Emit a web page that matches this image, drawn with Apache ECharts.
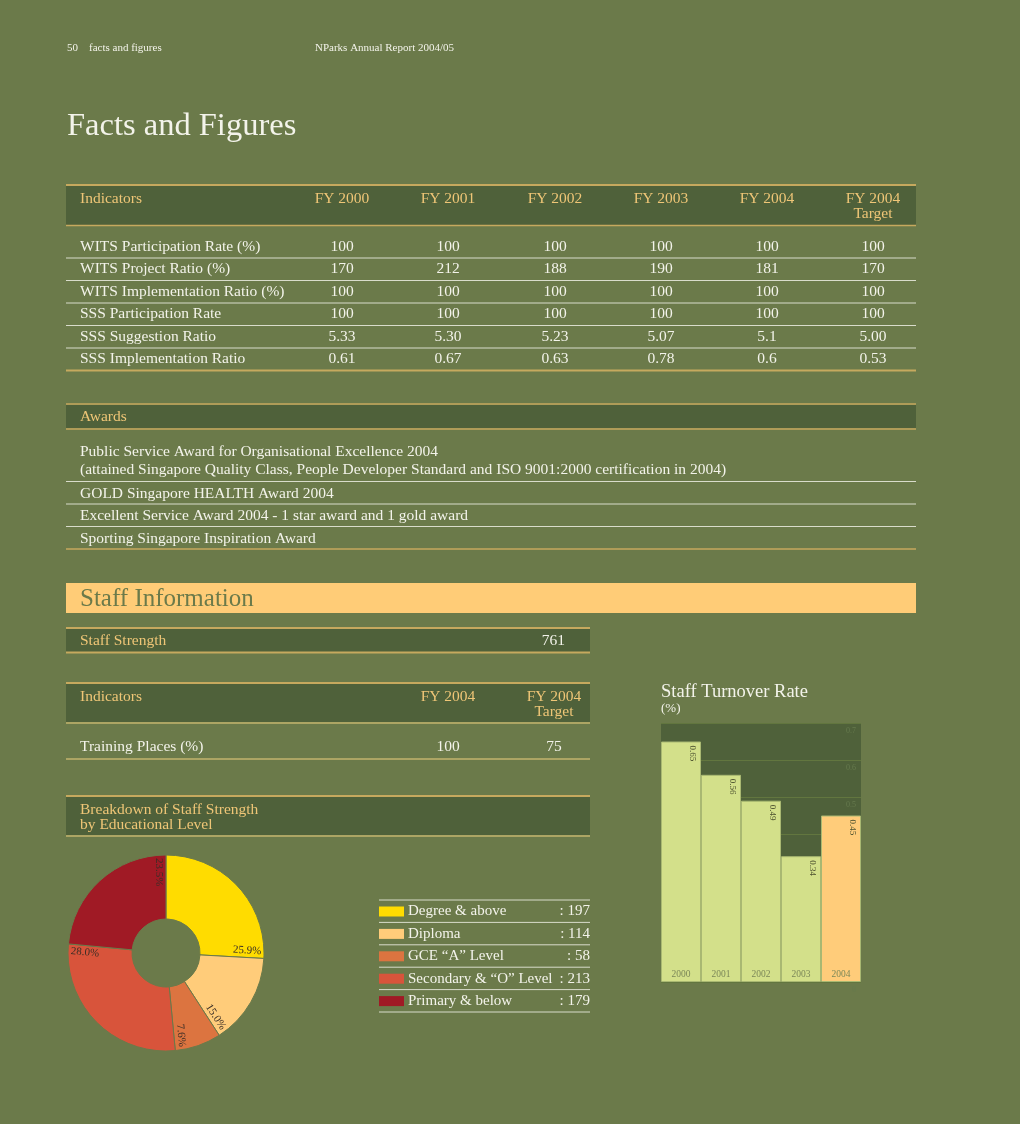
<!DOCTYPE html>
<html><head><meta charset="utf-8">
<script src="https://cdn.jsdelivr.net/npm/echarts@6/dist/echarts.min.js"></script>
<style>html,body{margin:0;padding:0;background:#6b7a4a;}#c{width:1020px;height:1124px;}</style>
</head><body><div id="c"></div>
<script>
// ---------- data ----------
const pageTag = '50    facts and figures';
const reportName = 'NParks Annual Report 2004/05';
const pageTitle = 'Facts and Figures';
const fyColumns = ['FY 2000', 'FY 2001', 'FY 2002', 'FY 2003', 'FY 2004', 'FY 2004\nTarget'];
const indicatorNames = ['WITS Participation Rate (%)', 'WITS Project Ratio (%)', 'WITS Implementation Ratio (%)', 'SSS Participation Rate', 'SSS Suggestion Ratio', 'SSS Implementation Ratio'];
const witsParticipation = ['100', '100', '100', '100', '100', '100'];
const witsProject = ['170', '212', '188', '190', '181', '170'];
const witsImplementation = ['100', '100', '100', '100', '100', '100'];
const sssParticipation = ['100', '100', '100', '100', '100', '100'];
const sssSuggestion = ['5.33', '5.30', '5.23', '5.07', '5.1', '5.00'];
const sssImplementation = ['0.61', '0.67', '0.63', '0.78', '0.6', '0.53'];
const awardsTitle = 'Awards';
const awards = [
  'Public Service Award for Organisational Excellence 2004\n(attained Singapore Quality Class, People Developer Standard and ISO 9001:2000 certification in 2004)',
  'GOLD Singapore HEALTH Award 2004',
  'Excellent Service Award 2004 - 1 star award and 1 gold award',
  'Sporting Singapore Inspiration Award'
];
const staffTitle = 'Staff Information';
const staffStrengthLabel = 'Staff Strength';
const staffStrength = 761;
const staffColumns = ['FY 2004', 'FY 2004\nTarget'];
const trainingLabel = 'Training Places (%)';
const trainingPlaces = ['100', '75'];
const breakdownTitle = 'Breakdown of Staff Strength\nby Educational Level';
const educationLevels = ['Degree & above', 'Diploma', 'GCE “A” Level', 'Secondary & “O” Level', 'Primary & below'];
const educationCounts = [197, 114, 58, 213, 179];
const turnoverTitle = 'Staff Turnover Rate';
const turnoverUnit = '(%)';
const turnoverYears = ['2000', '2001', '2002', '2003', '2004'];
const turnoverRates = [0.65, 0.56, 0.49, 0.34, 0.45];

// ---------- style ----------
const F = '"Liberation Serif","DejaVu Serif",serif';
const C = {bg:'#6b7a4a', band:'#4f613a', gold:'#c6a95e', lightGold:'#efd07e', head:'#efc677',
  white:'#f3f3ea', rule:'#d9dccb', staff:'#ffcc77'};
const eduColors = ['#ffdc00', '#ffcc7a', '#dc7440', '#d8543b', '#a01a25'];
const FS = 15.5;

const G = [];
function T(x, y, text, size, fill, align, extra) {
  G.push({type:'text', x:x, y:y, z:5, silent:true,
    style:Object.assign({text:text, fill:fill, font:size + 'px ' + F,
      align:align || 'left', textAlign:align || 'left', verticalAlign:'middle', textVerticalAlign:'middle'}, extra || {})});
}
function L(x1, y, x2, stroke, w) {
  G.push({type:'line', z:4, silent:true, shape:{x1:x1, y1:y, x2:x2, y2:y}, style:{stroke:stroke, lineWidth:w}});
}
function R(x, y, w, h, fill) {
  G.push({type:'rect', z:3, silent:true, shape:{x:x, y:y, width:w, height:h}, style:{fill:fill}});
}
const topAlign = {verticalAlign:'top', textVerticalAlign:'top', lineHeight:15};

// header
T(67, 48, pageTag, 11, C.white, 'left', {whiteSpace:'pre'});
T(315, 48, reportName, 11, C.white);
T(67, 126, pageTitle, 32.5, C.white);

// table 1
const X0 = 66, X1 = 916;
const colX = [342, 448, 555, 661, 767, 873];
L(X0, 185, X1, C.gold, 2);
R(X0, 186, X1 - X0, 39, C.band);
L(X0, 225.5, X1, C.gold, 1.5);
T(80, 191, 'Indicators', FS, C.head, 'left', topAlign);
fyColumns.forEach((c, i) => T(colX[i], 191, c, FS, C.head, 'center', topAlign));
const tableRows = [witsParticipation, witsProject, witsImplementation, sssParticipation, sssSuggestion, sssImplementation];
tableRows.forEach((row, r) => {
  const y = 246.5 + r * 22.5;
  T(80, y, indicatorNames[r], FS, C.white);
  row.forEach((v, i) => T(colX[i], y, v, FS, C.white, 'center'));
  if (r < tableRows.length - 1) L(X0, y + 11.5, X1, C.rule, 1);
});
L(X0, 370.5, X1, C.gold, 2);

// awards
L(X0, 404, X1, C.gold, 1.5);
R(X0, 405, X1 - X0, 23, C.band);
L(X0, 429, X1, C.gold, 1.5);
T(80, 417, awardsTitle, FS, C.head);
T(80, 443, awards[0], FS, C.white, 'left', {verticalAlign:'top', textVerticalAlign:'top', lineHeight:18});
L(X0, 481.5, X1, C.rule, 1);
T(80, 493.5, awards[1], FS, C.white);
L(X0, 504, X1, C.rule, 1);
T(80, 516, awards[2], FS, C.white);
L(X0, 526.5, X1, C.rule, 1);
T(80, 538.5, awards[3], FS, C.white);
L(X0, 549, X1, C.gold, 1.5);

// staff information band
R(X0, 583, X1 - X0, 30, C.staff);
T(80, 599, staffTitle, 25, '#6b7a4a');

// staff strength
const SX1 = 590;
L(X0, 628, SX1, C.gold, 2);
R(X0, 629, SX1 - X0, 23, C.band);
L(X0, 652.5, SX1, C.gold, 2);
T(80, 641, staffStrengthLabel, FS, C.head);
T(565, 641, String(staffStrength), FS, C.white, 'right');

// staff indicators
const sCol = [448, 554];
L(X0, 683, SX1, C.gold, 2);
R(X0, 684, SX1 - X0, 38, C.band);
L(X0, 723, SX1, C.lightGold, 1);
T(80, 689, 'Indicators', FS, C.head, 'left', topAlign);
staffColumns.forEach((c, i) => T(sCol[i], 689, c, FS, C.head, 'center', topAlign));
T(80, 747, trainingLabel, FS, C.white);
trainingPlaces.forEach((v, i) => T(sCol[i], 747, v, FS, C.white, 'center'));
L(X0, 759, SX1, C.lightGold, 1);

// breakdown
L(X0, 796, SX1, C.gold, 2);
R(X0, 797, SX1 - X0, 38, C.band);
L(X0, 836, SX1, C.lightGold, 1);
T(80, 802, breakdownTitle, FS, C.head, 'left', topAlign);

// legend of education levels
const LX0 = 379, LX1 = 590, LY0 = 900, LS = 22.4;
L(LX0, LY0, LX1, C.rule, 1);
educationLevels.forEach((name, i) => {
  const yc = LY0 + LS * i + 11.5;
  R(LX0, yc - 5, 25, 10, eduColors[i]);
  T(408, yc, name, 15, C.white);
  T(LX1, yc, ': ' + educationCounts[i], 15, C.white, 'right');
  L(LX0, LY0 + LS * (i + 1), LX1, C.rule, 1);
});

// turnover title
T(661, 692, turnoverTitle, 18.5, C.white);
T(661, 709, turnoverUnit, 13, C.white);

// ---------- pie label placement ----------
const total = educationCounts.reduce((a, b) => a + b, 0);
const cum = []; let acc = 0;
educationCounts.forEach(v => { acc += v; cum.push(acc); });
const PC = [166, 953], PR = [34, 98];

const chart = echarts.init(document.getElementById('c'), null, {renderer:'canvas', width:1020, height:1124});
chart.setOption({
  animation:false,
  backgroundColor:C.bg,
  graphic:{elements:G},
  grid:{left:661, top:723, width:200, height:259, show:true, backgroundColor:C.band, borderWidth:0},
  xAxis:{type:'category', data:turnoverYears, z:10,
    axisLine:{show:false}, axisTick:{show:false},
    axisLabel:{inside:true, margin:3, fontFamily:F, fontSize:9.5, color:'#7b8758'}},
  yAxis:{type:'value', position:'right', min:0, max:0.7, interval:0.1,
    axisLine:{show:false}, axisTick:{show:false},
    splitLine:{lineStyle:{color:'#62763f', width:1}},
    axisLabel:{inside:true, margin:5, fontFamily:F, fontSize:8, color:'#667a4d', verticalAlign:'top', padding:[4,0,0,0]}},
  series:[
    {type:'bar', data:turnoverRates.map((v, i) => ({value:v, itemStyle:{color: i === turnoverRates.length - 1 ? '#ffcc7a' : '#d3e08a'}})),
      barCategoryGap:'0%',
      itemStyle:{borderColor:'#a9b872', borderWidth:1},
      label:{show:true, position:['78%', 4], rotate:-90, align:'left', verticalAlign:'middle',
        fontFamily:F, fontSize:9, color:'#4d5230', formatter:p => String(p.value)}},
    {type:'pie', center:PC, radius:PR, startAngle:90, clockwise:true,
      data:educationLevels.map((n, i) => ({name:n, value:educationCounts[i], itemStyle:{color:eduColors[i]}})),
      itemStyle:{borderColor:'#6b7a4a', borderWidth:1},
      label:{show:true, position:'inside', fontFamily:F, fontSize:11, color:'#3a2e26',
        formatter:p => (p.value / total * 100).toFixed(1) + '%'},
      labelLine:{show:false},
      emphasis:{disabled:true},
      labelLayout:function (p) {
        const th = cum[p.dataIndex] / total * 2 * Math.PI;
        const dx = Math.sin(th), dy = -Math.cos(th);
        let rot = 90 - th * 180 / Math.PI;
        rot = (((rot + 180) % 360) + 360) % 360 - 180;
        let align = 'right';
        if (rot >= 90) { rot -= 180; align = 'left'; }
        else if (rot < -90) { rot += 180; align = 'left'; }
        const r = PR[1] - 3, off = 7;
        return {x:PC[0] + r * dx - off * Math.cos(th), y:PC[1] + r * dy - off * Math.sin(th),
          rotate:rot, align:align, verticalAlign:'middle'};
      }}
  ]
});
</script></body></html>
